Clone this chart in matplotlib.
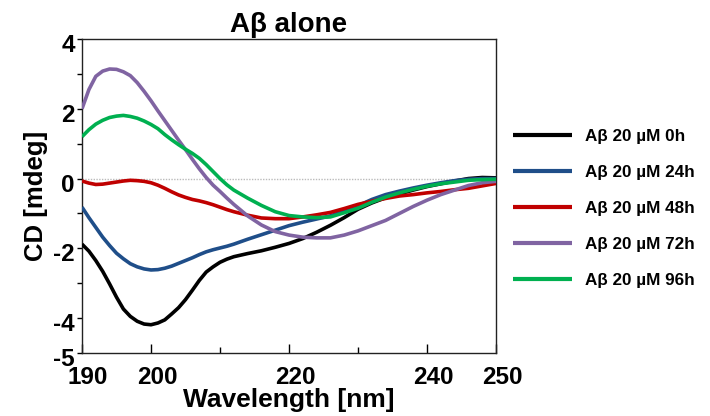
import matplotlib
matplotlib.use("Agg")
import matplotlib.pyplot as plt
from matplotlib.transforms import ScaledTranslation

plt.rcParams['font.family'] = ['Liberation Sans', 'DejaVu Sans']
plt.rcParams['font.weight'] = 'bold'

wavelength = [190, 191, 192, 193, 194, 195, 196, 197, 198, 199, 200, 201, 202, 203, 204, 205,
              206, 207, 208, 209, 210, 211, 212, 214, 216, 218,
              220, 222, 224, 226, 228, 230, 232, 234, 236, 238, 240, 242, 244, 246, 248, 250]

cd_0h = [-1.88, -2.08, -2.35, -2.66, -3.02, -3.4, -3.74, -3.95, -4.09, -4.17, -4.19, -4.14, -4.05, -3.88, -3.7, -3.47,
         -3.2, -2.92, -2.68, -2.53, -2.4, -2.31, -2.24, -2.15, -2.07, -1.97,
         -1.86, -1.72, -1.54, -1.34, -1.12, -0.88, -0.7, -0.55, -0.44, -0.33, -0.23, -0.15, -0.07, 0.0, 0.03, 0.02]
cd_24h = [-0.82, -1.12, -1.4, -1.68, -1.92, -2.14, -2.3, -2.44, -2.53, -2.59, -2.62, -2.61, -2.57, -2.51, -2.43, -2.35,
          -2.27, -2.18, -2.1, -2.04, -1.99, -1.94, -1.88, -1.74, -1.61, -1.48,
          -1.35, -1.25, -1.16, -1.07, -0.93, -0.78, -0.6, -0.46, -0.36, -0.27, -0.19, -0.12, -0.06, -0.02, 0.0, 0.0]
cd_48h = [-0.07, -0.13, -0.17, -0.16, -0.13, -0.1, -0.07, -0.05, -0.06, -0.08, -0.12, -0.19, -0.28, -0.38, -0.47, -0.54,
          -0.6, -0.64, -0.69, -0.75, -0.82, -0.89, -0.95, -1.05, -1.13, -1.15,
          -1.15, -1.1, -1.04, -0.97, -0.86, -0.74, -0.65, -0.57, -0.5, -0.46, -0.41, -0.37, -0.32, -0.28, -0.21, -0.14]
cd_72h = [2.0, 2.55, 2.93, 3.08, 3.14, 3.13, 3.06, 2.95, 2.75, 2.5, 2.23, 1.94, 1.66, 1.38, 1.1, 0.83,
          0.55, 0.28, 0.03, -0.19, -0.37, -0.56, -0.74, -1.07, -1.33, -1.52,
          -1.62, -1.68, -1.7, -1.7, -1.62, -1.5, -1.35, -1.2, -1.0, -0.8, -0.62, -0.46, -0.33, -0.2, -0.12, -0.08]
cd_96h = [1.2, 1.4, 1.56, 1.67, 1.75, 1.79, 1.81, 1.78, 1.73, 1.65, 1.55, 1.43, 1.26, 1.11, 0.97, 0.84,
          0.72, 0.58, 0.4, 0.2, 0.0, -0.18, -0.33, -0.56, -0.77, -0.95,
          -1.06, -1.1, -1.12, -1.1, -0.98, -0.85, -0.68, -0.53, -0.41, -0.31, -0.22, -0.15, -0.1, -0.05, -0.03, -0.02]

series_labels = ['Aβ 20 µM 0h', 'Aβ 20 µM 24h', 'Aβ 20 µM 48h', 'Aβ 20 µM 72h', 'Aβ 20 µM 96h']
series_colors = ['#000000', '#1F4E89', '#C00000', '#8064A2', '#00B050']

x_ticks = [190, 200, 220, 240, 250]
x_minor = [210, 230]
y_ticks = [-5, -4, -3, -2, -1, 0, 1, 2, 3, 4]
y_ticklabels = ['-5', '-4', '', '-2', '', '0', '', '2', '', '4']

fig = plt.figure(figsize=(7.1, 4.16), dpi=100)
ax = fig.add_axes([82/710, 63/416, 414/710, 314/416])

ax.axhline(0, color='#BBBBBB', lw=1.0, ls=(0, (1, 1)), zorder=1)
for vals, lab, col in zip([cd_0h, cd_24h, cd_48h, cd_72h, cd_96h], series_labels, series_colors):
    ax.plot(wavelength, vals, color=col, lw=2.6, label=lab, solid_capstyle='butt',
            solid_joinstyle='round', zorder=3)

ax.set_xlim(190, 250)
ax.set_ylim(-5, 4)
ax.set_xticks(x_ticks)
ax.set_xticklabels([str(t) for t in x_ticks])
ax.set_xticks(x_minor, minor=True)
ax.set_yticks(y_ticks)
ax.set_yticklabels(y_ticklabels)

ax.tick_params(axis='x', which='major', direction='in', length=6.5, width=1.0, pad=9, labelsize=17.5)
ax.tick_params(axis='x', which='minor', direction='in', length=4.3, width=1.0)
ax.tick_params(axis='y', which='major', direction='out', length=3.6, width=1.0, pad=1.5, labelsize=17.5)
for sp in ax.spines.values():
    sp.set_linewidth(1.0)
    sp.set_color('#222222')

# tick label offsets as in reference
for lbl in ax.get_xticklabels():
    lbl.set_transform(lbl.get_transform() + ScaledTranslation(6/100, 0, fig.dpi_scale_trans))
for lbl in ax.get_yticklabels():
    lbl.set_transform(lbl.get_transform() + ScaledTranslation(0, -4/100, fig.dpi_scale_trans))

ax.set_title('Aβ alone', fontsize=20, fontweight='bold', pad=5)
ax.set_xlabel('Wavelength [nm]', fontsize=19, fontweight='bold', labelpad=0)
ax.set_ylabel('CD [mdeg]', fontsize=18.5, fontweight='bold', labelpad=4)

leg = ax.legend(loc='center left', bbox_to_anchor=(1.005, 0.46), frameon=False,
                fontsize=12.3, handlelength=3.4, handletextpad=0.8, labelspacing=1.22)
for line in leg.get_lines():
    line.set_linewidth(3.0)

fig.savefig('out.png', dpi=100)
